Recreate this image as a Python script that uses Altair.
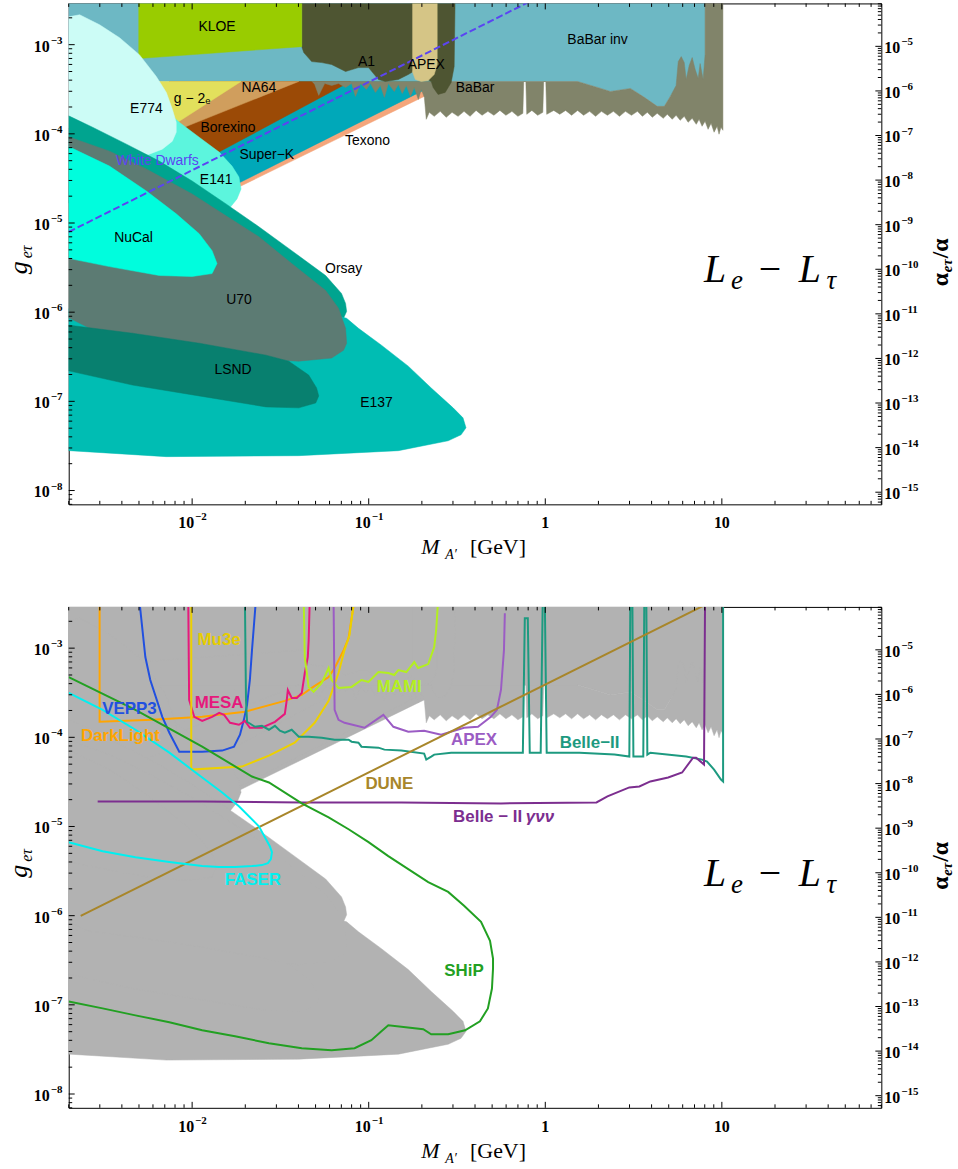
import math

import altair as alt
import pandas as pd

# Ranges shared by both panels
M_RANGE = [0.002, 80.0]          # M_A' in GeV
G_RANGE = [7e-9, 2.9e-3]         # g_{e tau}
ALPHA_EM = 1.0 / 137.036
A_RANGE = [g * g / (4.0 * math.pi * ALPHA_EM) for g in G_RANGE]   # alpha_{e tau}/alpha

W, H = 816, 503
SERIF = "Liberation Serif"
SANS = "Liberation Sans"

# ---------------------------------------------------------------------------
# Excluded regions, boundaries given as (log10 M/GeV, log10 g)
# ---------------------------------------------------------------------------
BABAR_INV = [(-2.75, -2.39), (0.905, -2.39), (0.905, -3.48), (0.747, -3.48), (0.708, -3.58),
             (0.674, -3.692), (0.634, -3.692), (0.561, -3.591), (0.482, -3.491), (0.369, -3.525),
             (0.296, -3.48), (0.183, -3.413), (-2.75, -3.413)]
TEXONO = [(-2.129, -3.413), (-0.578, -3.413), (-0.578, -3.548), (-0.663, -3.558), (-1.735, -4.596),
          (-1.96, -4.786), (-2.129, -4.674)]
SUPER_K = [(-2.129, -3.413), (-0.578, -3.413), (-0.578, -3.502), (-0.68, -3.502), (-1.735, -4.551),
           (-1.96, -4.73), (-2.129, -4.618)]
BOREXINO = [(-2.129, -3.413), (-1.103, -3.413), (-1.859, -4.216), (-1.96, -4.339), (-2.129, -4.172)]
NA64 = [(-2.129, -3.413), (-1.396, -3.413), (-2.073, -3.949), (-2.129, -3.982)]
G_MINUS_2 = [(-2.242, -3.413), (-1.723, -3.413), (-2.073, -3.859), (-2.242, -3.926)]
BABAR = [(-1.323, -3.413), (0.183, -3.413), (0.296, -3.48), (0.369, -3.525), (0.482, -3.491), (0.561, -3.591),
         (0.634, -3.692), (0.674, -3.692), (0.708, -3.58), (0.741, -3.458), (0.753, -3.19), (0.77, -3.134),
         (0.787, -3.201), (0.798, -3.391), (0.815, -3.234), (0.832, -3.145), (0.849, -3.279), (0.866, -3.379),
         (0.877, -3.212), (0.894, -3.391), (0.905, -3.112), (0.905, -2.39), (1.006, -2.39), (1.006, -3.96),
         (0.995, -3.926), (0.984, -4.004), (0.973, -3.915), (0.956, -3.982), (0.939, -3.882), (0.922, -3.949),
         (0.905, -3.859), (0.888, -3.915), (0.871, -3.837), (0.855, -3.893), (0.832, -3.826), (0.809, -3.87),
         (0.787, -3.804), (0.764, -3.848), (0.741, -3.792), (0.719, -3.837), (0.691, -3.781), (0.668, -3.826),
         (0.634, -3.77), (0.606, -3.815), (0.578, -3.759), (0.55, -3.804), (0.522, -3.748), (0.488, -3.792),
         (0.454, -3.748), (0.42, -3.804), (0.386, -3.748), (0.352, -3.792), (0.318, -3.748), (0.285, -3.804),
         (0.251, -3.748), (0.217, -3.792), (0.183, -3.737), (0.149, -3.792), (0.115, -3.737), (0.082, -3.781),
         (0.048, -3.737), (0.008, -3.781), (0.003, -3.413), (-0.009, -3.413), (-0.014, -3.759), (-0.043, -3.792),
         (-0.076, -3.737), (-0.105, -3.781), (-0.11, -3.413), (-0.122, -3.413), (-0.127, -3.77), (-0.155, -3.804),
         (-0.189, -3.748), (-0.223, -3.792), (-0.257, -3.737), (-0.291, -3.792), (-0.325, -3.748), (-0.358, -3.792),
         (-0.392, -3.737), (-0.426, -3.804), (-0.46, -3.748), (-0.494, -3.804), (-0.528, -3.759), (-0.561, -3.815),
         (-0.595, -3.748), (-0.629, -3.804), (-0.657, -3.759), (-0.674, -3.837), (-0.685, -3.591), (-0.702, -3.502),
         (-0.719, -3.614), (-0.742, -3.48), (-0.764, -3.58), (-0.787, -3.458), (-0.81, -3.547), (-0.832, -3.446),
         (-0.855, -3.525), (-0.889, -3.435), (-0.911, -3.591), (-0.934, -3.458), (-0.962, -3.536), (-0.99, -3.435),
         (-1.013, -3.502), (-1.046, -3.435), (-1.075, -3.58), (-1.097, -3.435), (-1.131, -3.48), (-1.171, -3.435),
         (-1.21, -3.458), (-1.249, -3.435), (-1.283, -3.569), (-1.306, -3.446)]
A1 = [(-1.379, -2.39), (-0.511, -2.39), (-0.511, -2.531), (-0.516, -3.246), (-0.533, -3.424), (-0.567, -3.536),
      (-0.607, -3.558), (-0.635, -3.48), (-0.646, -3.413), (-0.748, -3.301), (-0.776, -3.335), (-0.832, -3.391),
      (-0.906, -3.413), (-0.945, -3.391), (-1.001, -3.257), (-1.058, -3.257), (-1.131, -3.301), (-1.21, -3.223),
      (-1.266, -3.201), (-1.323, -3.19), (-1.368, -3.089), (-1.379, -3.022)]
APEX_REGION = [(-0.753, -2.39), (-0.612, -2.39), (-0.612, -3.223), (-0.629, -3.335), (-0.663, -3.402),
               (-0.702, -3.413), (-0.736, -3.391), (-0.753, -3.301)]
KLOE = [(-2.304, -2.39), (-1.379, -2.39), (-1.379, -3.022), (-2.304, -3.156)]
E141 = [(-2.158, -3.725), (-2.073, -3.87), (-1.96, -4.038), (-1.847, -4.205), (-1.774, -4.362), (-1.735, -4.484),
        (-1.723, -4.618), (-1.746, -4.73), (-1.791, -4.841), (-1.904, -4.73), (-2.186, -4.339), (-2.355, -4.149)]
E774 = [(-2.75, -2.688), (-2.699, -2.688), (-2.637, -2.665), (-2.524, -2.777), (-2.411, -2.922), (-2.299, -3.112),
        (-2.203, -3.357), (-2.146, -3.536), (-2.112, -3.725), (-2.09, -3.87), (-2.09, -3.982), (-2.112, -4.083),
        (-2.169, -4.172), (-2.242, -4.228), (-2.315, -4.261), (-2.524, -4.06), (-2.75, -3.893)]
ORSAY = [(-2.75, -3.759), (-2.693, -3.804), (-2.564, -3.926), (-2.372, -4.116), (-2.186, -4.306), (-2.0, -4.529),
         (-1.808, -4.786), (-1.622, -5.042), (-1.436, -5.31), (-1.244, -5.589), (-1.154, -5.79), (-1.131, -5.902),
         (-1.125, -5.991), (-1.148, -6.091), (-1.199, -6.158), (-1.678, -5.846), (-2.242, -5.176), (-2.75, -4.73)]
E137 = [(-2.75, -5.957), (-1.678, -6.069), (-1.227, -6.013), (-1.125, -6.069), (-1.058, -6.181), (-0.928, -6.37),
        (-0.776, -6.605), (-0.646, -6.85), (-0.522, -7.073), (-0.466, -7.185), (-0.449, -7.297), (-0.477, -7.375),
        (-0.55, -7.442), (-0.832, -7.553), (-1.396, -7.609), (-2.146, -7.62), (-2.693, -7.553), (-2.75, -7.553)]
U70 = [(-2.75, -4.004), (-2.693, -4.038), (-2.468, -4.194), (-2.259, -4.395), (-2.0, -4.674), (-1.808, -4.92),
       (-1.622, -5.154), (-1.436, -5.455), (-1.244, -5.757), (-1.171, -5.957), (-1.131, -6.181), (-1.125, -6.348),
       (-1.142, -6.426), (-1.21, -6.515), (-1.396, -6.549), (-1.774, -6.515), (-2.146, -6.426), (-2.524, -6.236),
       (-2.693, -6.069), (-2.75, -6.047)]
NUCAL = [(-2.75, -4.127), (-2.693, -4.149), (-2.468, -4.362), (-2.259, -4.641), (-2.09, -4.897), (-1.96, -5.12),
         (-1.887, -5.31), (-1.859, -5.455), (-1.887, -5.567), (-2.0, -5.6), (-2.186, -5.589), (-2.468, -5.489),
         (-2.693, -5.399), (-2.75, -5.388)]
LSND = [(-2.75, -6.147), (-2.693, -6.147), (-2.338, -6.236), (-1.96, -6.348), (-1.582, -6.482), (-1.453, -6.549),
        (-1.34, -6.705), (-1.295, -6.85), (-1.283, -6.939), (-1.3, -7.018), (-1.396, -7.073), (-1.582, -7.062),
        (-1.96, -6.939), (-2.338, -6.817), (-2.693, -6.66), (-2.75, -6.649)]
WHITE_DWARFS = [(-2.699, -5.10), (0.0, -2.43)]

TOP_REGIONS = [
    (BABAR_INV, "#6DB8C4"), (TEXONO, "#F5A67B"), (SUPER_K, "#00A8B9"), (BOREXINO, "#9B4A06"),
    (NA64, "#D09E5D"), (G_MINUS_2, "#E2E05C"), (BABAR, "#81846A"), (A1, "#4E5532"),
    (APEX_REGION, "#D5C586"), (KLOE, "#99CC00"), (E141, "#5CF5DD"), (E774, "#CCFCF6"),
    (ORSAY, "#00A48F"), (E137, "#00BDB3"), (U70, "#5C7B73"), (NUCAL, "#00FDDD"), (LSND, "#08806F"),
]

TOP_LABELS = [
    ("KLOE", -1.859, -2.799), ("A1", -1.013, -3.19), ("APEX", -0.674, -3.223), ("BaBar", -0.398, -3.491),
    ("BaBar inv", 0.296, -2.944), ("NA64", -1.622, -3.491), ("g − 2ₑ", -2.0, -3.614), ("E774", -2.259, -3.725),
    ("Borexino", -1.797, -3.937), ("Super−K", -1.577, -4.239), ("Texono", -1.007, -4.083), ("E141", -1.864, -4.518),
    ("NuCal", -2.332, -5.165), ("Orsay", -1.142, -5.511), ("U70", -1.735, -5.868), ("LSND", -1.768, -6.649),
    ("E137", -0.956, -7.018),
]

# ---------------------------------------------------------------------------
# Projected sensitivities, (log10 M/GeV, log10 g)
# ---------------------------------------------------------------------------
DARKLIGHT = [(-2.524, -2.464), (-2.524, -3.826), (-2.225, -3.804), (-1.943, -3.77), (-1.701, -3.714),
             (-1.475, -3.591), (-1.379, -3.525), (-1.323, -3.446), (-1.227, -3.324), (-1.193, -3.223),
             (-1.142, -3.022), (-1.114, -2.888), (-1.086, -2.52), (-1.08, -2.464)]
VEPP3 = [(-2.299, -2.464), (-2.265, -3.1), (-2.237, -3.357), (-2.169, -3.77), (-2.129, -3.949), (-2.073, -4.161),
         (-1.943, -4.161), (-1.83, -4.149), (-1.763, -4.105), (-1.729, -3.971), (-1.707, -3.804), (-1.689, -3.636),
         (-1.673, -3.357), (-1.661, -3.022), (-1.65, -2.743), (-1.639, -2.464)]
MESA = [(-2.022, -2.464), (-2.017, -3.58), (-1.988, -3.77), (-1.943, -3.815), (-1.887, -3.77), (-1.847, -3.725),
        (-1.819, -3.748), (-1.785, -3.837), (-1.735, -3.859), (-1.701, -3.815), (-1.673, -3.893), (-1.605, -3.893),
        (-1.531, -3.826), (-1.475, -3.737), (-1.464, -3.58), (-1.458, -3.469), (-1.436, -3.558), (-1.407, -3.558),
        (-1.379, -3.502), (-1.362, -3.279), (-1.345, -3.1), (-1.34, -2.911), (-1.334, -2.464)]
MU3E = [(-2.005, -2.464), (-2.005, -4.362), (-1.718, -4.328), (-1.565, -4.205), (-1.419, -4.06), (-1.306, -3.837),
        (-1.227, -3.591), (-1.171, -3.279), (-1.137, -3.022), (-1.109, -2.855), (-1.086, -2.52), (-1.08, -2.464)]
MAMI = [(-1.368, -2.464), (-1.362, -3.1), (-1.34, -3.435), (-1.312, -3.491), (-1.266, -3.391), (-1.227, -3.223),
        (-1.21, -3.357), (-1.171, -3.446), (-1.097, -3.435), (-1.041, -3.357), (-1.001, -3.379), (-0.945, -3.268),
        (-0.889, -3.279), (-0.855, -3.301), (-0.832, -3.246), (-0.787, -3.268), (-0.742, -3.156), (-0.72, -3.223),
        (-0.663, -3.179), (-0.629, -2.989), (-0.618, -2.799), (-0.607, -2.464)]
APEX_PROJ = [(-1.199, -2.464), (-1.193, -3.692), (-1.171, -3.804), (-1.137, -3.837), (-1.024, -3.893),
             (-0.917, -3.748), (-0.86, -3.882), (-0.776, -3.937), (-0.686, -3.926), (-0.59, -3.971),
             (-0.46, -3.893), (-0.381, -3.882), (-0.308, -3.77), (-0.274, -3.692), (-0.251, -3.469),
             (-0.234, -3.022), (-0.229, -2.609)]
BELLE2 = [(-1.701, -2.464), (-1.695, -3.58), (-1.689, -3.826), (-1.644, -3.882), (-1.605, -3.871), (-1.565, -3.915),
          (-1.531, -3.871), (-1.503, -3.926), (-1.475, -3.949), (-1.436, -3.915), (-1.396, -3.993), (-1.34, -3.993),
          (-1.266, -4.004), (-1.193, -4.027), (-1.114, -4.027), (-1.097, -4.049), (-1.058, -4.06), (-1.041, -4.105),
          (-0.945, -4.116), (-0.911, -4.138), (-0.815, -4.149), (-0.686, -4.183), (-0.674, -4.25), (-0.646, -4.216),
          (-0.629, -4.194), (-0.533, -4.172), (-0.364, -4.172), (-0.138, -4.172), (-0.127, -4.172), (-0.116, -2.665),
          (-0.099, -2.665), (-0.088, -4.172), (-0.026, -4.172), (-0.014, -2.4), (-0.003, -2.4), (0.008, -4.172),
          (0.194, -4.172), (0.392, -4.194), (0.476, -4.216), (0.482, -2.4), (0.493, -2.4), (0.499, -4.216),
          (0.555, -4.216), (0.561, -2.4), (0.572, -2.4), (0.578, -4.194), (0.595, -4.172), (0.798, -4.216),
          (0.888, -4.25), (0.916, -4.272), (0.956, -4.362), (0.995, -4.473), (1.007, -4.495), (1.007, -2.4)]
BELLE2_GNN = [(-2.535, -4.719), (-1.943, -4.719), (-1.379, -4.73), (-0.815, -4.73), (-0.251, -4.741),
              (0.29, -4.73), (0.352, -4.663), (0.476, -4.562), (0.533, -4.551), (0.595, -4.495), (0.696, -4.451),
              (0.775, -4.395), (0.837, -4.228), (0.854, -4.228), (0.899, -4.306), (0.905, -2.4)]
DUNE = [(-2.631, -6.002), (0.9, -2.52)]
SHIP = [(-2.699, -3.324), (-2.321, -3.692), (-1.943, -4.105), (-1.661, -4.44), (-1.565, -4.507), (-1.379, -4.741),
        (-1.227, -4.897), (-1.114, -5.031), (-1.001, -5.176), (-0.889, -5.332), (-0.776, -5.478), (-0.663, -5.623),
        (-0.55, -5.734), (-0.46, -5.89), (-0.364, -6.069), (-0.313, -6.281), (-0.296, -6.482), (-0.296, -6.594),
        (-0.302, -6.817), (-0.325, -7.04), (-0.37, -7.185), (-0.454, -7.285), (-0.55, -7.33), (-0.646, -7.33),
        (-0.691, -7.274), (-0.889, -7.23), (-0.928, -7.297), (-0.985, -7.397), (-1.08, -7.486), (-1.21, -7.509),
        (-1.379, -7.486), (-1.565, -7.431), (-1.757, -7.352), (-1.943, -7.285), (-2.129, -7.196), (-2.321, -7.118),
        (-2.507, -7.04), (-2.699, -6.962)]
FASER = [(-2.699, -3.502), (-2.507, -3.692), (-2.321, -3.915), (-2.129, -4.172), (-1.943, -4.451), (-1.83, -4.618),
         (-1.735, -4.774), (-1.622, -4.998), (-1.56, -5.221), (-1.548, -5.288), (-1.554, -5.366), (-1.571, -5.411),
         (-1.605, -5.433), (-1.661, -5.444), (-1.757, -5.455), (-1.847, -5.455), (-1.943, -5.444), (-2.129, -5.399),
         (-2.321, -5.344), (-2.507, -5.277), (-2.699, -5.176)]

PROJECTIONS = [
    (DARKLIGHT, "#FFA500"), (VEPP3, "#2150E0"), (MESA, "#E6197C"), (MU3E, "#EDD000"), (MAMI, "#B3EF1F"),
    (APEX_PROJ, "#9B5CC4"), (BELLE2, "#1D9A80"), (BELLE2_GNN, "#7C2E8F"), (DUNE, "#A8862A"),
    (SHIP, "#22A022"), (FASER, "#00F0F0"),
]

BOTTOM_LABELS = [
    ("VEPP3", -2.355, -3.681, "#2150E0"), ("MESA", -1.847, -3.614, "#E6197C"), ("Mu3e", -1.847, -2.911, "#E6CC00"),
    ("MAMI", -0.827, -3.435, "#B3EF1F"), ("DarkLight", -2.406, -3.982, "#FFA500"), ("APEX", -0.403, -4.027, "#9B5CC4"),
    ("Belle−II", 0.251, -4.06, "#1D9A80"), ("DUNE", -0.883, -4.529, "#A8862A"), ("FASER", -1.656, -5.6, "#00F0F0"),
    ("SHiP", -0.46, -6.616, "#22A022"),
]

# ---------------------------------------------------------------------------
# Frame ticks
# ---------------------------------------------------------------------------
X_MAJOR = [0.01, 0.1, 1.0, 10.0]
X_MINOR = [d * 10.0 ** k for k in range(-3, 2) for d in range(2, 10) if M_RANGE[0] <= d * 10.0 ** k <= M_RANGE[1]]
G_MAJOR = [10.0 ** k for k in range(-8, -2)]
G_MINOR = [d * 10.0 ** k for k in range(-9, -2) for d in range(2, 10) if G_RANGE[0] <= d * 10.0 ** k <= G_RANGE[1]]
A_MAJOR = [10.0 ** k for k in range(-15, -4)]
A_MINOR = [d * 10.0 ** k for k in range(-16, -4) for d in range(2, 10) if A_RANGE[0] <= d * 10.0 ** k <= A_RANGE[1]]


def xenc():
    return alt.X("m:Q", scale=alt.Scale(type="log", domain=M_RANGE, nice=False), axis=None)


def genc():
    return alt.Y("g:Q", scale=alt.Scale(type="log", domain=G_RANGE, nice=False), axis=None)


def aenc():
    return alt.Y("a:Q", scale=alt.Scale(type="log", domain=A_RANGE, nice=False), axis=None)


def boundary_df(points):
    return pd.DataFrame({"m": [10.0 ** p[0] for p in points],
                         "g": [10.0 ** p[1] for p in points],
                         "i": list(range(len(points)))})


def polygon(points, color):
    return alt.Chart(boundary_df(points)).mark_line(
        fill=color, stroke=color, strokeWidth=0.5, clip=True
    ).encode(x=xenc(), y=genc(), order="i:Q")


def curve(points, color, width=2.0, dash=None):
    kw = dict(color=color, strokeWidth=width, clip=True)
    if dash:
        kw["strokeDash"] = dash
    return alt.Chart(boundary_df(points)).mark_line(**kw).encode(x=xenc(), y=genc(), order="i:Q")


def region_labels(rows, size, weight, color=None):
    df = pd.DataFrame({"t": [r[0] for r in rows],
                       "m": [10.0 ** r[1] for r in rows],
                       "g": [10.0 ** r[2] for r in rows],
                       "c": [r[3] if len(r) > 3 else color for r in rows]})
    return alt.Chart(df).mark_text(font=SANS, fontSize=size, fontWeight=weight, align="center",
                                   baseline="middle").encode(
        x=xenc(), y=genc(), text="t:N", color=alt.Color("c:N", scale=None))


def free_text(text, x, y, size, font=SERIF, style="normal", weight="normal", align="left",
              baseline="alphabetic", angle=0, color="black"):
    return alt.Chart(alt.Data(values=[{}])).mark_text(
        text=text, font=font, fontSize=size, fontStyle=style, fontWeight=weight, align=align,
        baseline=baseline, angle=angle, color=color
    ).encode(x=alt.value(x), y=alt.value(y))


def frame_ticks(color):
    out = []
    for vals, ln in ((X_MAJOR, 6), (X_MINOR, 3.5)):
        df = pd.DataFrame({"m": vals})
        out.append(alt.Chart(df).mark_rule(color=color, strokeWidth=1).encode(
            x=xenc(), y=alt.value(H), y2=alt.value(H - ln)))
        out.append(alt.Chart(df).mark_rule(color=color, strokeWidth=1).encode(
            x=xenc(), y=alt.value(0), y2=alt.value(ln)))
    for vals, ln in ((G_MAJOR, 6), (G_MINOR, 3.5)):
        df = pd.DataFrame({"g": vals})
        out.append(alt.Chart(df).mark_rule(color=color, strokeWidth=1).encode(
            y=genc(), x=alt.value(0), x2=alt.value(ln)))
    return out


def tick_labels():
    out = []
    xe = pd.DataFrame({"m": [0.01, 0.1], "b": ["10", "10"], "e": ["−2", "−1"]})
    xp = pd.DataFrame({"m": [1.0, 10.0], "b": ["1", "10"]})
    out.append(alt.Chart(xe).mark_text(font=SERIF, fontWeight="bold", fontSize=16, align="right",
                                       baseline="middle", dx=2).encode(x=xenc(), y=alt.value(H + 19), text="b:N"))
    out.append(alt.Chart(xe).mark_text(font=SERIF, fontWeight="bold", fontSize=11, align="left",
                                       baseline="middle", dx=3).encode(x=xenc(), y=alt.value(H + 13), text="e:N"))
    out.append(alt.Chart(xp).mark_text(font=SERIF, fontWeight="bold", fontSize=16, align="center",
                                       baseline="middle").encode(x=xenc(), y=alt.value(H + 19), text="b:N"))
    gl = pd.DataFrame({"g": G_MAJOR, "b": ["10"] * len(G_MAJOR),
                       "e": ["−%d" % round(-math.log10(v)) for v in G_MAJOR]})
    out.append(alt.Chart(gl).mark_text(font=SERIF, fontWeight="bold", fontSize=16, align="right",
                                       baseline="middle", dy=2).encode(x=alt.value(-19), y=genc(), text="b:N"))
    out.append(alt.Chart(gl).mark_text(font=SERIF, fontWeight="bold", fontSize=11, align="left",
                                       baseline="middle", dy=-4).encode(x=alt.value(-18), y=genc(), text="e:N"))
    return out


def alpha_axis():
    out = []
    for vals, ln in ((A_MAJOR, 6), (A_MINOR, 3.5)):
        df = pd.DataFrame({"a": vals})
        out.append(alt.Chart(df).mark_rule(color="black", strokeWidth=1).encode(
            y=aenc(), x=alt.value(W), x2=alt.value(W - ln)))
    al = pd.DataFrame({"a": A_MAJOR, "b": ["10"] * len(A_MAJOR),
                       "e": ["−%d" % round(-math.log10(v)) for v in A_MAJOR]})
    out.append(alt.Chart(al).mark_text(font=SERIF, fontWeight="bold", fontSize=16, align="left",
                                       baseline="middle", dy=2).encode(x=alt.value(W + 3), y=aenc(), text="b:N"))
    out.append(alt.Chart(al).mark_text(font=SERIF, fontWeight="bold", fontSize=11, align="left",
                                       baseline="middle", dy=-4).encode(x=alt.value(W + 20), y=aenc(), text="e:N"))
    return out


def titles():
    return [
        # L_e - L_tau
        free_text("L", 638, 280, 40, style="italic"),
        free_text("e", 665, 287, 27, style="italic"),
        free_text("−", 693, 280, 40),
        free_text("L", 733, 280, 40, style="italic"),
        free_text("τ", 761, 287, 27, style="italic"),
        # horizontal axis title
        free_text("M", 354, H + 50, 22, style="italic"),
        free_text("A′", 378, H + 55, 14, style="italic"),
        free_text("[GeV]", 403, H + 50, 22),
        # left axis title
        free_text("g", -50, 272, 26, style="italic", angle=270, baseline="middle"),
        free_text("eτ", -42, 256, 16, style="italic", angle=270, baseline="middle"),
        # right axis title
        free_text("α", W + 60, 284, 24, weight="bold", angle=270, baseline="middle"),
        free_text("eτ", W + 66, 270, 15, style="italic", weight="bold", angle=270, baseline="middle"),
        free_text("/α", W + 60, 256, 24, weight="bold", angle=270, baseline="middle"),
    ]


def panel(g_layers):
    return alt.layer(alt.layer(*g_layers), alt.layer(*alpha_axis())).resolve_scale(
        y="independent").properties(width=W, height=H)


# Upper panel: existing limits
top_layers = [polygon(p, c) for p, c in TOP_REGIONS]
top_layers.append(curve(WHITE_DWARFS, "#5B44F2", 2.0, [7, 3]))
top_layers.append(region_labels(TOP_LABELS, 14, "normal", "black"))
top_layers.append(region_labels([("White Dwarfs", -2.197, -4.306)], 14, "normal", "#5B44F2"))
top_layers += frame_ticks("black") + tick_labels() + titles()
top = panel(top_layers)

# Lower panel: union of limits in grey with projected reaches
bottom_layers = [polygon(p, "#B2B2B2") for p, _ in TOP_REGIONS]
bottom_layers += [curve(p, c, 2.0) for p, c in PROJECTIONS]
bottom_layers.append(region_labels(BOTTOM_LABELS, 17, "bold"))
bottom_layers.append(alt.Chart(pd.DataFrame({"m": [10.0 ** -0.522], "g": [10.0 ** -4.897]})).mark_text(
    text="Belle − II", font=SANS, fontSize=17, fontWeight="bold", align="left", baseline="middle",
    color="#7C2E8F").encode(x=xenc(), y=genc()))
bottom_layers.append(alt.Chart(pd.DataFrame({"m": [10.0 ** -0.110], "g": [10.0 ** -4.897]})).mark_text(
    text="γνν", font=SANS, fontSize=17, fontWeight="bold", fontStyle="italic", align="left",
    baseline="middle", color="#7C2E8F").encode(x=xenc(), y=genc()))
bottom_layers += frame_ticks("black") + tick_labels() + titles()
bottom = panel(bottom_layers)

chart = alt.vconcat(top, bottom, spacing=43).properties(
    padding={"left": 5, "top": 0, "right": 2, "bottom": 2}
).configure_view(stroke="black", strokeWidth=1)

chart.save("out.html", embed_options={"renderer": "svg", "actions": False})
